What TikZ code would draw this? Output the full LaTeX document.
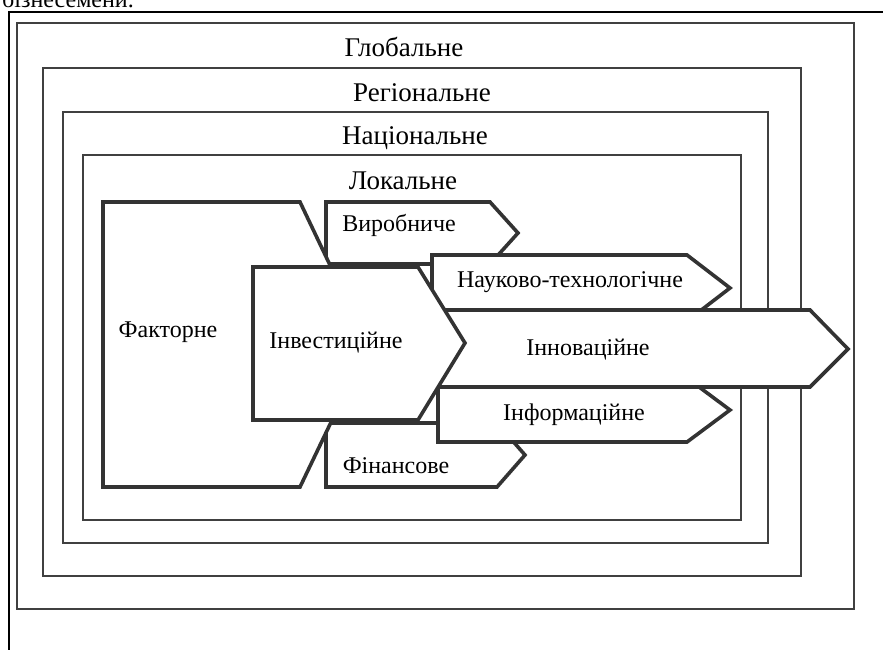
\documentclass[tikz,border=0pt]{standalone}
\usepackage{fontspec}
\setmainfont{Liberation Serif}
\begin{document}
\begin{tikzpicture}[line join=miter, x=1pt, y=-1pt]
	\tikzset{every node/.style={inner sep=0pt, anchor=base, font=\fontsize{24}{28}\selectfont},
		rama/.style={draw=black!75, line width=2.4pt},
		strilka/.style={draw=black!80, fill=white, line width=3.6pt},
		rivnyj/.style={font=\fontsize{27}{31}\selectfont}}
	\useasboundingbox (0,0) rectangle (883,650);
	\draw[line width=2pt] (9,650)--(9,12)--(883,12);
	\node[anchor=base east] (pidpys) at (134,8) {бізнесемени.};
	\foreach \xa/\ya/\xb/\yb/\lx/\ly/\nazva/\txt in {17/23/854/609/404/57/glob/Глобальне,
		43/68/801/576/422/102/reg/Регіональне,
		63/112/768/543/415/145/nac/Національне,
		83/155/741/520/403/189/lok/Локальне}
	{
		\draw[rama] (\xa,\ya) rectangle (\xb,\yb);
		\node[rivnyj] (\nazva) at (\lx,\ly) {\txt};
	}
	\foreach \xa/\ya/\xb/\tip/\ym/\yb/\lx/\ly/\nazva/\txt in {326/202/490/518/233/264/399/231/vyrob/Виробниче,
		326/423/497/525/455/487/396/473/fin/Фінансове,
		103/202/300/368/345/487/168/337/fakt/Факторне,
		432/255/687/730/288/321/570/287/nauk/Науково-технологічне,
		438/378/687/730/410/442/574/420/inform/Інформаційне,
		400/310/810/848/349/387/588/355/innov/Інноваційне,
		253/267/418/465/343/420/336/348/invest/Інвестиційне}
	{
		\draw[strilka] (\xa,\ya)--(\xb,\ya)--(\tip,\ym)--(\xb,\yb)--(\xa,\yb)--cycle;
		\node (\nazva) at (\lx,\ly) {\txt};
	}
\end{tikzpicture}
\end{document}
